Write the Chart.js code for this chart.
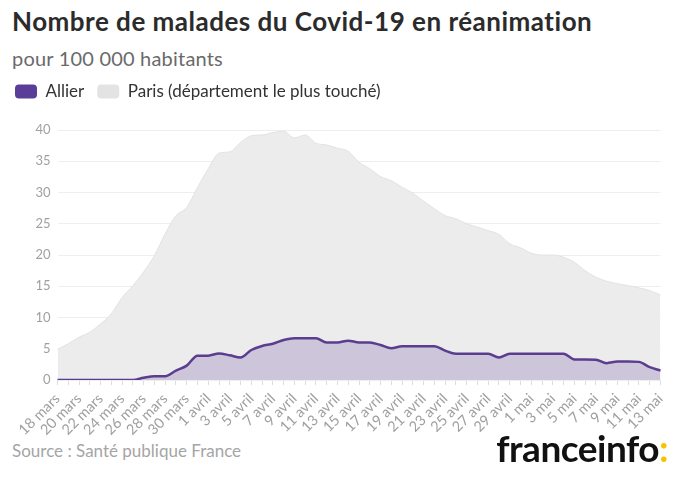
<!DOCTYPE html>
<html>
<head>
<meta charset="utf-8">
<script src="https://cdn.jsdelivr.net/npm/chart.js@4/dist/chart.umd.min.js"></script>
<style>
  html, body { margin: 0; padding: 0; background: #fff; }
  body { width: 680px; height: 480px; position: relative; overflow: hidden; font-family: "Lato", "Open Sans", sans-serif; }
  #title { position: absolute; left: 12px; top: 5px; font-size: 26px; font-weight: 700; color: #2b2b2b; white-space: nowrap; letter-spacing: 0.5px; }
  #subtitle { position: absolute; left: 12px; top: 46px; font-size: 20px; color: #6a6a6a; white-space: nowrap; letter-spacing: 0.2px; }
  #wrap { position: absolute; left: 0; top: 70px; width: 680px; height: 370px; }
  #source { position: absolute; left: 12px; top: 440px; font-size: 17px; color: #a5a5a5; white-space: nowrap; }
  #logo { position: absolute; right: 12px; top: 425px; font-size: 37px; font-weight: 700; color: #111; white-space: nowrap; letter-spacing: -0.5px; }
  #logo span { color: #f5c400; }
</style>
</head>
<body>
<div id="title">Nombre de malades du Covid-19 en réanimation</div>
<div id="subtitle">pour 100 000 habitants</div>
<div id="wrap"><canvas id="c"></canvas></div>
<div id="source">Source : Santé publique France</div>
<div id="logo">franceinfo<span>:</span></div>
<script>
// Dates: 18 mars -> 13 mai (one per day)
const dates = [
  "18 mars","19 mars","20 mars","21 mars","22 mars","23 mars","24 mars","25 mars","26 mars","27 mars",
  "28 mars","29 mars","30 mars","31 mars","1 avril","2 avril","3 avril","4 avril","5 avril","6 avril",
  "7 avril","8 avril","9 avril","10 avril","11 avril","12 avril","13 avril","14 avril","15 avril","16 avril",
  "17 avril","18 avril","19 avril","20 avril","21 avril","22 avril","23 avril","24 avril","25 avril","26 avril",
  "27 avril","28 avril","29 avril","30 avril","1 mai","2 mai","3 mai","4 mai","5 mai","6 mai",
  "7 mai","8 mai","9 mai","10 mai","11 mai","12 mai","13 mai"
];
const allier = [
  0,0,0,0,0,0,0,0,0.35,0.6,
  0.6,1.5,2.3,3.9,3.9,4.25,3.95,3.6,4.8,5.45,
  5.8,6.4,6.7,6.7,6.7,6.0,6.0,6.3,6.0,6.0,
  5.6,5.1,5.4,5.4,5.4,5.4,4.7,4.2,4.2,4.2,
  4.2,3.6,4.2,4.2,4.2,4.2,4.2,4.2,3.3,3.3,
  3.25,2.7,2.95,2.95,2.9,2.05,1.5
];
const paris = [
  4.9,5.8,6.85,7.65,9.0,10.6,13.2,15.1,17.3,19.9,
  23.4,26.3,27.6,30.8,33.8,36.3,36.5,38.0,39.1,39.2,
  39.6,39.8,38.75,39.2,37.9,37.6,37.1,36.6,34.85,33.8,
  32.55,31.9,30.85,29.9,28.6,27.4,26.3,25.8,25.0,24.45,
  23.9,23.3,21.8,21.15,20.3,20.0,20.0,19.65,18.85,17.5,
  16.45,15.8,15.4,15.1,14.75,14.3,13.6
];
const yTicks = [0,5,10,15,20,25,30,35,40];
const seriesNames = ["Allier", "Paris (département le plus touché)"];

const legendHeight = {
  id: 'legendHeight',
  beforeInit(chart) {
    const origFit = chart.legend.fit;
    chart.legend.fit = function() {
      origFit.call(this);
      this.height = 60;
    };
  }
};

new Chart(document.getElementById('c'), {
  type: 'line',
  data: {
    labels: dates,
    datasets: [
      {
        label: seriesNames[0],
        data: allier,
        borderColor: '#5a3d8f',
        backgroundColor: '#cdc6da',
        borderWidth: 2.5,
        fill: 'origin',
        pointRadius: 0,
        cubicInterpolationMode: 'monotone'
      },
      {
        label: seriesNames[1],
        data: paris,
        borderColor: '#e2e2e2',
        backgroundColor: '#ececec',
        borderWidth: 1,
        fill: 'origin',
        pointRadius: 0,
        cubicInterpolationMode: 'monotone'
      }
    ]
  },
  plugins: [legendHeight],
  options: {
    responsive: true,
    maintainAspectRatio: false,
    animation: false,
    layout: { padding: { left: 2, right: 19.5, top: 0, bottom: 0 } },
    plugins: {
      tooltip: { enabled: false },
      legend: {
        position: 'top',
        align: 'start',
        labels: {
          color: '#333',
          font: { family: 'Lato', size: 17 },
          boxWidth: 22,
          boxHeight: 14,
          padding: 13,
          useBorderRadius: true,
          borderRadius: 4,
          generateLabels: (chart) => chart.data.datasets.map((ds, i) => ({
            text: ds.label,
            fillStyle: i === 0 ? '#5a3d99' : '#e3e3e3',
            strokeStyle: i === 0 ? '#5a3d99' : '#e3e3e3',
            lineWidth: 0,
            borderRadius: 4,
            datasetIndex: i,
            fontColor: '#333'
          }))
        }
      }
    },
    scales: {
      x: {
        type: 'category',
        offset: false,
        afterFit: (axis) => { axis.height = 60; },
        grid: { display: true, drawOnChartArea: false, drawTicks: true, tickLength: 5, color: '#dddddd' },
        border: { display: false },
        ticks: {
          autoSkip: false,
          maxRotation: 45,
          minRotation: 45,
          color: '#a0a0a0',
          font: { family: 'Lato', size: 14.5 },
          padding: 5,
          callback: function(v, i) { return i % 2 === 0 ? dates[i] : ''; }
        }
      },
      y: {
        min: 0,
        max: 40,
        afterFit: (axis) => { axis.width = 55.5; },
        afterBuildTicks: (axis) => { axis.ticks = yTicks.map(v => ({ value: v })); },
        grid: { color: '#eeeeee', drawTicks: false },
        border: { display: false },
        ticks: {
          color: '#a0a0a0',
          font: { family: 'Lato', size: 13 },
          padding: 7
        }
      }
    }
  }
});
</script>
</body>
</html>
